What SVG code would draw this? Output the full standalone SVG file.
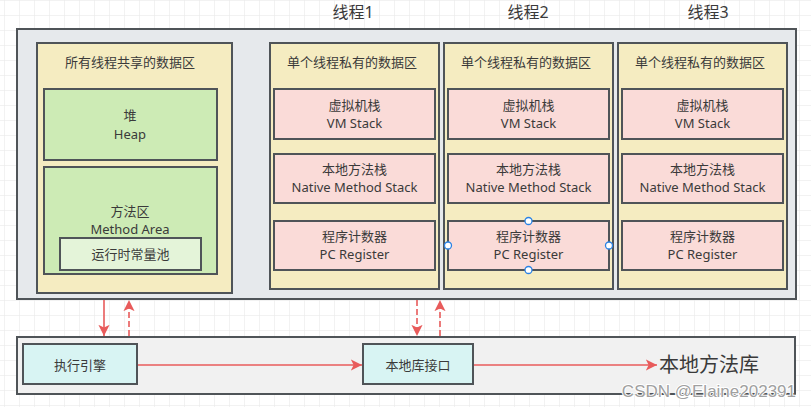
<svg xmlns="http://www.w3.org/2000/svg" width="811" height="407" viewBox="0 0 811 407">
<defs>
<pattern id="grid" x="4" y="0" width="15" height="15" patternUnits="userSpaceOnUse">
<path d="M0 0 H15 M0 0 V15" fill="none" stroke="#e6e6e6" stroke-width="1"/>
</pattern>
<marker id="ah" viewBox="0 0 10 10" refX="10" refY="5" markerWidth="7" markerHeight="7" markerUnits="strokeWidth" orient="auto">
<path d="M0 0 L10 5 L0 10 L2.5 5 Z" fill="#e85b5b"/>
</marker>
<style>
.box{stroke:#4f5458;stroke-width:2}
.outer{fill:#e6e9ec}
.yellow{fill:#f5ecc1}
.green{fill:#cdebb5}
.lgreen{fill:#e4f4d9}
.pink{fill:#fadbd8}
.cyan{fill:#d8f4f3}
.bottom{fill:#f1f1f1}
text{font-family:"Noto Sans","Noto Sans CJK SC",sans-serif;fill:#3a3a3a;text-anchor:middle}
.t13{font-size:13px}
.t16{font-size:16px}
.t20{font-size:20px;text-anchor:start}
.ln{stroke:#e85b5b;stroke-width:1.6;fill:none;marker-end:url(#ah)}
.dash{stroke-dasharray:6 3}
.handle{fill:#ffffff;stroke:#2a82e4;stroke-width:1.3}
.wm{font-family:"Liberation Sans","Noto Sans",sans-serif;font-size:17px;fill:#a0a0a0;stroke:#ffffff;stroke-width:2;paint-order:stroke;text-anchor:end}
</style>
</defs>
<rect width="811" height="407" fill="#ffffff"/>
<rect width="811" height="407" fill="url(#grid)"/>

<g id="thread-titles">
<text class="t16" x="353" y="18">线程1</text>
<text class="t16" x="528" y="18">线程2</text>
<text class="t16" x="708" y="18">线程3</text>
</g>

<g id="runtime-area">
<rect class="box outer" x="17" y="29" width="779" height="270"/>
</g>

<g id="shared-area">
<rect class="box yellow" x="37" y="43" width="195" height="250"/>
<text class="t13" x="130" y="67">所有线程共享的数据区</text>
</g>
<g id="heap">
<rect class="box green" x="44" y="89" width="173" height="71"/>
<text class="t13" x="130" y="120">堆</text>
<text class="t13" x="130" y="139">Heap</text>
</g>
<g id="method-area">
<rect class="box green" x="44" y="167" width="173" height="107"/>
<text class="t13" x="130" y="216">方法区</text>
<text class="t13" x="130" y="234">Method Area</text>
</g>
<g id="constant-pool">
<rect class="box lgreen" x="60" y="238" width="141" height="32"/>
<text class="t13" x="130.5" y="259">运行时常量池</text>
</g>

<g id="thread1">
<rect class="box yellow" x="270" y="43" width="169" height="246"/>
<text class="t13" x="352" y="67">单个线程私有的数据区</text>
</g>
<g id="thread1-vmstack">
<rect class="box pink" x="274" y="89" width="161" height="50"/>
<text class="t13" x="354.5" y="110">虚拟机栈</text>
<text class="t13" x="354.5" y="128">VM Stack</text>
</g>
<g id="thread1-native">
<rect class="box pink" x="274" y="154" width="161" height="49"/>
<text class="t13" x="354.5" y="174">本地方法栈</text>
<text class="t13" x="354.5" y="191.5">Native Method Stack</text>
</g>
<g id="thread1-pc">
<rect class="box pink" x="274" y="221" width="161" height="49"/>
<text class="t13" x="354.5" y="241">程序计数器</text>
<text class="t13" x="354.5" y="259">PC Register</text>
</g>

<g id="thread2">
<rect class="box yellow" x="444" y="43" width="169" height="246"/>
<text class="t13" x="526" y="67">单个线程私有的数据区</text>
</g>
<g id="thread2-vmstack">
<rect class="box pink" x="448" y="89" width="161" height="50"/>
<text class="t13" x="528.5" y="110">虚拟机栈</text>
<text class="t13" x="528.5" y="128">VM Stack</text>
</g>
<g id="thread2-native">
<rect class="box pink" x="448" y="154" width="161" height="49"/>
<text class="t13" x="528.5" y="174">本地方法栈</text>
<text class="t13" x="528.5" y="191.5">Native Method Stack</text>
</g>
<g id="thread2-pc">
<rect class="box pink" x="448" y="221" width="161" height="49"/>
<text class="t13" x="528.5" y="241">程序计数器</text>
<text class="t13" x="528.5" y="259">PC Register</text>
<circle class="handle" cx="528.5" cy="221" r="3.5"/>
<circle class="handle" cx="448" cy="245.5" r="3.5"/>
<circle class="handle" cx="609" cy="245.5" r="3.5"/>
<circle class="handle" cx="528.5" cy="270" r="3.5"/>
</g>

<g id="thread3">
<rect class="box yellow" x="618" y="43" width="169" height="246"/>
<text class="t13" x="700" y="67">单个线程私有的数据区</text>
</g>
<g id="thread3-vmstack">
<rect class="box pink" x="622" y="89" width="161" height="50"/>
<text class="t13" x="702.5" y="110">虚拟机栈</text>
<text class="t13" x="702.5" y="128">VM Stack</text>
</g>
<g id="thread3-native">
<rect class="box pink" x="622" y="154" width="161" height="49"/>
<text class="t13" x="702.5" y="174">本地方法栈</text>
<text class="t13" x="702.5" y="191.5">Native Method Stack</text>
</g>
<g id="thread3-pc">
<rect class="box pink" x="622" y="221" width="161" height="49"/>
<text class="t13" x="702.5" y="241">程序计数器</text>
<text class="t13" x="702.5" y="259">PC Register</text>
</g>

<g id="bottom-area">
<rect class="box bottom" x="17" y="337" width="778" height="57"/>
</g>
<g id="execution-engine">
<rect class="box cyan" x="23" y="344" width="114" height="40"/>
<text class="t13" x="80" y="369.5">执行引擎</text>
</g>
<g id="native-interface">
<rect class="box cyan" x="363" y="344" width="110" height="40"/>
<text class="t13" x="418" y="369.5">本地库接口</text>
</g>
<g id="native-library">
<text class="t20" x="659" y="372">本地方法库</text>
</g>

<g id="connectors">
<line class="ln" x1="104" y1="300" x2="104" y2="336"/>
<line class="ln dash" x1="129" y1="336" x2="129" y2="300"/>
<line class="ln dash" x1="417" y1="300" x2="417" y2="336"/>
<line class="ln dash" x1="440" y1="336" x2="440" y2="300"/>
<line class="ln" x1="138" y1="365" x2="362" y2="365"/>
<line class="ln" x1="474" y1="365" x2="657" y2="365"/>
</g>

<text class="wm" x="796" y="397">CSDN @Elaine202391</text>
</svg>
